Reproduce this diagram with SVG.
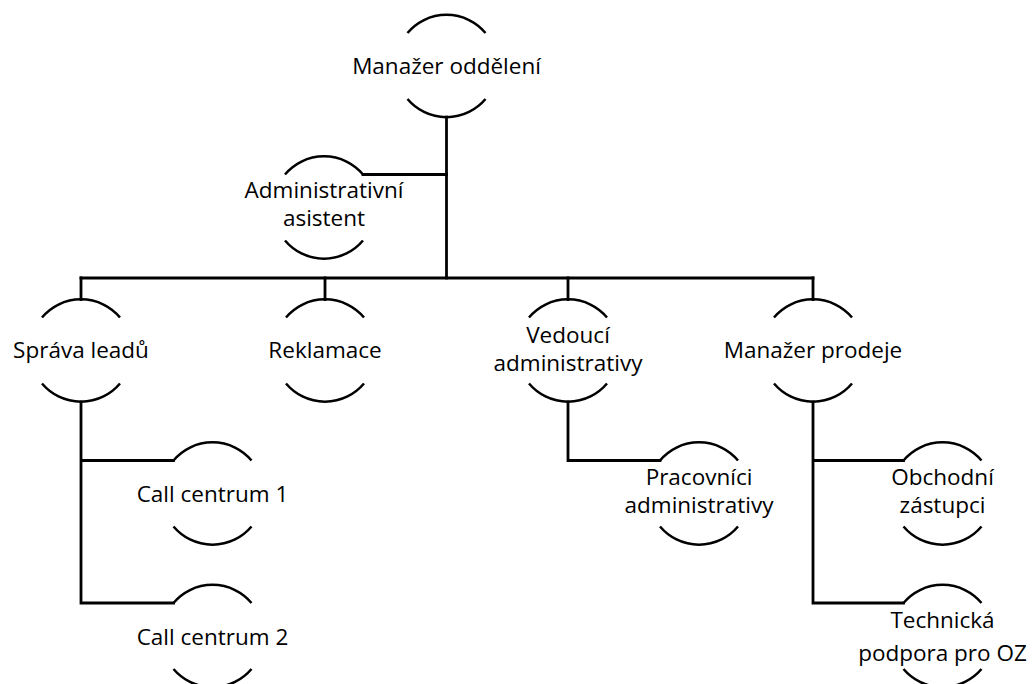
<svg xmlns="http://www.w3.org/2000/svg" width="1036" height="684" viewBox="0 0 1036 684">
  <style>
    .arc { fill: none; stroke: #000; stroke-width: 2.5; }
    .link { fill: none; stroke: #000; stroke-width: 2.8; stroke-linecap: square; }
    .lbl { font-family: "Open Sans", Lato, sans-serif; font-size: 22.5px; fill: #000; text-anchor: middle; font-variant-ligatures: none; }
  </style>
  <defs>
    <!-- Node outline: a circle of radius 51 showing only its top and bottom caps -->
    <path id="caps" d="M -39 -33 A 51 51 0 0 1 39 -33 M -39 33 A 51 51 0 0 0 39 33"/>
  </defs>
  <rect width="1036" height="684" fill="#fff"/>

  <g id="connectors">
    <path class="link" d="M 446.5 117 V 278"/>
    <path class="link" d="M 446.5 174.5 H 363"/>
    <path class="link" d="M 81 278 H 813"/>
    <path class="link" d="M 81 278 V 299.5 M 325 278 V 299.5 M 568 278 V 299.5 M 813 278 V 299.5"/>
    <path class="link" d="M 81 402 V 603 M 81 460.5 H 173.5 M 81 603 H 173.5"/>
    <path class="link" d="M 568 402 V 460.5 H 660"/>
    <path class="link" d="M 813 402 V 603 M 813 460.5 H 903.5 M 813 603 H 903.5"/>
  </g>

  <g id="manazer-oddeleni" transform="translate(446.5 66)">
    <use href="#caps" class="arc"/>
    <text class="lbl" y="7.5">Manažer oddělení</text>
  </g>
  <g id="administrativni-asistent" transform="translate(324 207.5)">
    <use href="#caps" class="arc"/>
    <text class="lbl" y="-9.5">Administrativní</text>
    <text class="lbl" y="18.5">asistent</text>
  </g>
  <g id="sprava-leadu" transform="translate(81 350.5)">
    <use href="#caps" class="arc"/>
    <text class="lbl" y="7.5">Správa leadů</text>
  </g>
  <g id="reklamace" transform="translate(325 350.5)">
    <use href="#caps" class="arc"/>
    <text class="lbl" y="7.5">Reklamace</text>
  </g>
  <g id="vedouci-administrativy" transform="translate(568 350.5)">
    <use href="#caps" class="arc"/>
    <text class="lbl" y="-7.5">Vedoucí</text>
    <text class="lbl" y="20.5">administrativy</text>
  </g>
  <g id="manazer-prodeje" transform="translate(813 350.5)">
    <use href="#caps" class="arc"/>
    <text class="lbl" y="7.5">Manažer prodeje</text>
  </g>
  <g id="call-centrum-1" transform="translate(212.5 493.5)">
    <use href="#caps" class="arc"/>
    <text class="lbl" y="8.5">Call centrum 1</text>
  </g>
  <g id="call-centrum-2" transform="translate(212.5 636)">
    <use href="#caps" class="arc"/>
    <text class="lbl" y="8.5">Call centrum 2</text>
  </g>
  <g id="pracovnici-administrativy" transform="translate(699 493.5)">
    <use href="#caps" class="arc"/>
    <text class="lbl" y="-8.5">Pracovníci</text>
    <text class="lbl" y="19.5">administrativy</text>
  </g>
  <g id="obchodni-zastupci" transform="translate(942.5 493.5)">
    <use href="#caps" class="arc"/>
    <text class="lbl" y="-8.5">Obchodní</text>
    <text class="lbl" y="19.5">zástupci</text>
  </g>
  <g id="technicka-podpora" transform="translate(942.5 636)">
    <use href="#caps" class="arc"/>
    <text class="lbl" y="-8.5">Technická</text>
    <text class="lbl" y="25">podpora pro OZ</text>
  </g>
</svg>
